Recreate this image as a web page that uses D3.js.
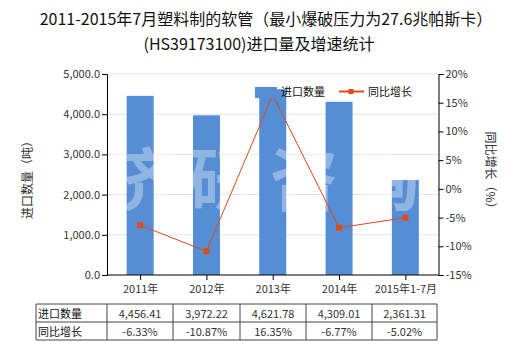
<!DOCTYPE html>
<html><head><meta charset="utf-8">
<script src="https://cdn.jsdelivr.net/npm/d3@7"></script>
<style>body{margin:0;background:#fff;}svg{display:block;font-family:"Noto Sans CJK SC","Microsoft YaHei",sans-serif;}</style>
</head><body><svg id="c" width="520" height="350"></svg>
<script>
const categories = ["2011年","2012年","2013年","2014年","2015年1-7月"];
const importQty = [4456.41, 3972.22, 4621.78, 4309.01, 2361.31];
const growth = [-6.33, -10.87, 16.35, -6.77, -5.02];
const qtyLabels = ["4,456.41","3,972.22","4,621.78","4,309.01","2,361.31"];
const growthLabels = ["-6.33%","-10.87%","16.35%","-6.77%","-5.02%"];
const leftTicks = [0,1000,2000,3000,4000,5000];
const rightTicks = [-15,-10,-5,0,5,10,15,20];

const svg = d3.select("#c");
const L = 107, R = 438.5, T = 74, B = 275;
const xc = d3.scalePoint().domain(categories).range([L, R]).padding(0.5);
const yL = d3.scaleLinear().domain([0,5000]).range([B, T]);
const yR = d3.scaleLinear().domain([-15,20]).range([B, T]);
const txt = "#333";

// title
const title = svg.append("g").attr("font-size", 16).attr("fill", "#111").attr("text-anchor","middle");
title.append("text").attr("x", 266).attr("y", 25).text("2011-2015年7月塑料制的软管（最小爆破压力为27.6兆帕斯卡）");
title.append("text").attr("x", 259).attr("y", 50).text("(HS39173100)进口量及增速统计");

// gridlines
svg.append("g").selectAll("line").data(leftTicks.slice(1)).join("line")
  .attr("x1", L).attr("x2", R).attr("y1", d=>yL(d)).attr("y2", d=>yL(d))
  .attr("stroke", "#e3e3e3").attr("stroke-width", 1);

// bars
svg.append("g").selectAll("rect").data(importQty).join("rect")
  .attr("x", (d,i)=>xc(categories[i]) - 13.5).attr("width", 27)
  .attr("y", d=>yL(d)).attr("height", d=>B - yL(d)).attr("fill", "#558ed5");

// watermark
svg.append("g").attr("font-size", 68).attr("font-weight","bold").attr("fill","#fff").attr("opacity",0.35)
  .selectAll("text").data(["济","研","咨","询"]).join("text")
  .attr("x",(d,i)=>140+i*82).attr("y",205).attr("text-anchor","middle").text(d=>d);

// axes
const axL = svg.append("g").attr("transform",`translate(${L},0)`)
  .call(d3.axisLeft(yL).tickValues(leftTicks).tickFormat(d3.format(",.1f")).tickSize(5).tickPadding(2));
const axR = svg.append("g").attr("transform",`translate(${R},0)`)
  .call(d3.axisRight(yR).tickValues(rightTicks).tickFormat(d=>d+"%").tickSize(5).tickPadding(2));
const axB = svg.append("g").attr("transform",`translate(0,${B})`)
  .call(d3.axisBottom(xc).tickSize(5).tickPadding(5));
[axL,axR,axB].forEach(a=>{
  a.selectAll("path,line").attr("stroke","#000");
  a.selectAll("text").attr("fill",txt).attr("font-size",11).attr("font-family",'"Noto Sans CJK SC",sans-serif');
});
axB.select(".domain").attr("d", `M${L},0H${R}`);

// axis titles
svg.append("text").attr("transform","translate(32,177) rotate(-90)").attr("text-anchor","middle")
  .attr("font-size",12).attr("fill",txt).text("进口数量（吨）");
svg.append("text").attr("transform","translate(486,173) rotate(90)").attr("text-anchor","middle")
  .attr("font-size",12).attr("fill",txt).text("同比增长（%）");

// line
const lineColor = "#dd4b17";
svg.append("path").datum(growth)
  .attr("d", d3.line().x((d,i)=>xc(categories[i])).y(d=>yR(d)))
  .attr("fill","none").attr("stroke",lineColor).attr("stroke-width",1);
svg.append("g").selectAll("rect").data(growth).join("rect")
  .attr("x",(d,i)=>xc(categories[i])-3).attr("y",d=>yR(d)-3).attr("width",6).attr("height",6).attr("fill",lineColor);

// legend
const lg = svg.append("g").attr("font-size",11).attr("fill","#111");
lg.append("rect").attr("x",255).attr("y",87).attr("width",22).attr("height",11).attr("fill","#558ed5");
lg.append("text").attr("x",281).attr("y",96).text("进口数量");
lg.append("line").attr("x1",339).attr("x2",364).attr("y1",91.5).attr("y2",91.5).attr("stroke",lineColor).attr("stroke-width",2);
lg.append("rect").attr("x",348.5).attr("y",89).attr("width",5).attr("height",5).attr("fill",lineColor);
lg.append("text").attr("x",368).attr("y",96).text("同比增长");

// table
const tX = [36, 107, 173, 240, 306, 372, 437];
const tY = [304, 322, 340];
const tb = svg.append("g");
tb.selectAll("line.h").data(tY).join("line").attr("x1",tX[0]).attr("x2",tX[6]).attr("y1",d=>d).attr("y2",d=>d)
  .attr("stroke","#444").attr("stroke-width",1);
tb.selectAll("line.v").data(tX).join("line").attr("class","v").attr("x1",d=>d).attr("x2",d=>d).attr("y1",tY[0]).attr("y2",tY[2])
  .attr("stroke","#444").attr("stroke-width",1);
const rows = [["进口数量", qtyLabels],["同比增长", growthLabels]];
rows.forEach((r,ri)=>{
  tb.append("text").attr("x",tX[0]+2).attr("y",tY[ri]+13.5).attr("font-size",11).attr("fill","#111").text(r[0]);
  tb.selectAll(null).data(r[1]).join("text").attr("x",(d,i)=>(tX[i+1]+tX[i+2])/2).attr("y",tY[ri]+14)
    .attr("text-anchor","middle").attr("font-size",11).attr("fill",txt).text(d=>d);
});
</script></body></html>
